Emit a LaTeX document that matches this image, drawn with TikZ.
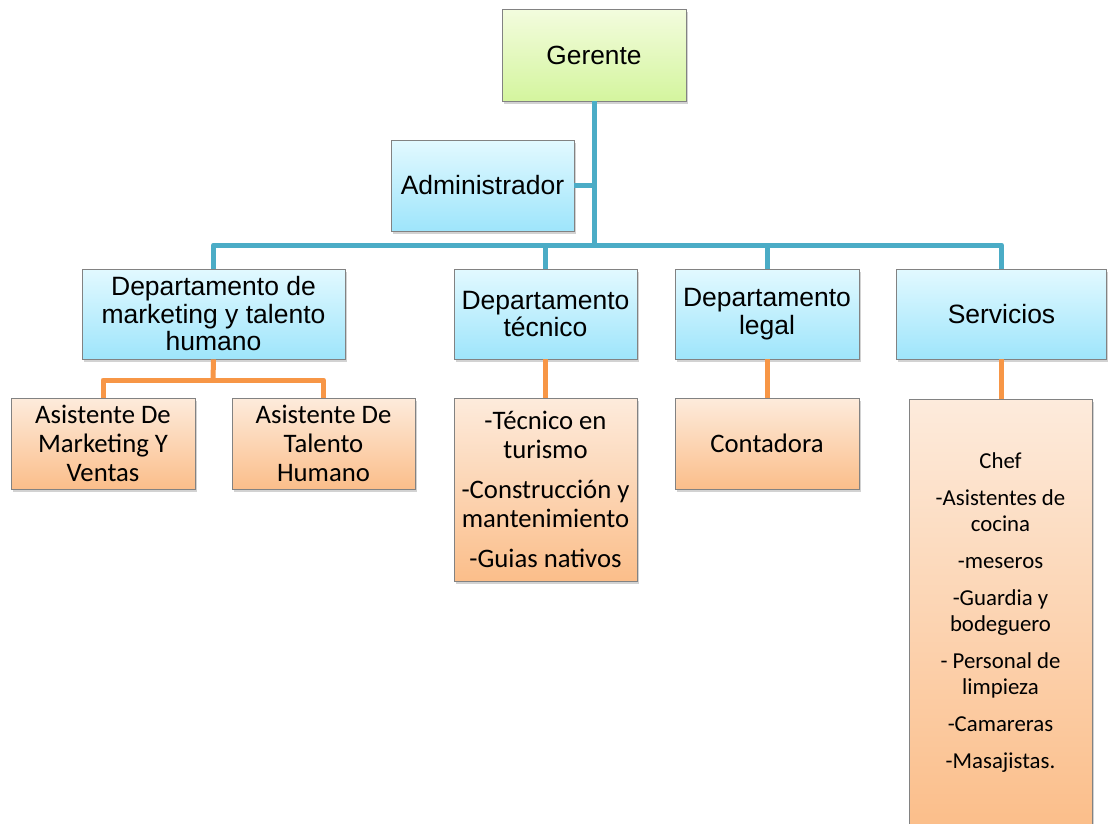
\documentclass[tikz,border=0pt]{standalone}
\usepackage{fontspec}
\setmainfont{Liberation Sans}
\newfontfamily\calibri{Carlito}
\usetikzlibrary{shadows}
\definecolor{tealline}{HTML}{4BACC6}
\definecolor{orangeline}{HTML}{F79646}
\definecolor{bluetop}{RGB}{226,249,255}
\definecolor{bluebot}{RGB}{158,229,251}
\definecolor{greentop}{RGB}{243,252,222}
\definecolor{greenbot}{RGB}{212,245,158}
\definecolor{orangetop}{RGB}{253,235,220}
\definecolor{orangebot}{RGB}{251,190,138}
\definecolor{boxborder}{RGB}{130,130,130}
\tikzset{
  x=1pt, y=1pt,
  basebox/.style={draw=boxborder, line width=0.8pt, inner sep=2pt, align=center,
    drop shadow={shadow xshift=1.5pt, shadow yshift=-2.5pt, opacity=0.35}},
  greenbox/.style={basebox, top color=greentop, bottom color=greenbot,
    font={\fontsize{26.3}{28}\selectfont}},
  bluebox/.style={basebox, top color=bluetop, bottom color=bluebot,
    font={\fontsize{26.5}{27.5}\selectfont}},
  orangebox/.style={basebox, top color=orangetop, bottom color=orangebot,
    font={\calibri\fontsize{26.7}{29}\selectfont}},
  tconn/.style={draw=tealline, line width=5pt, line join=round},
  oconn/.style={draw=orangeline, line width=5pt, line join=round},
}
\begin{document}
\begin{tikzpicture}
\useasboundingbox (0,0) rectangle (1109,-823);
\clip (0,0) rectangle (1109,-823);
\fill[white] (0,0) rectangle (1109,-823);

\coordinate (bus) at (594,-245);
\coordinate (obus) at (213,-380);

\node[greenbox, minimum width=184pt, minimum height=92pt] (ger) at (594,-55) {Gerente};
\node[bluebox, minimum width=183pt, minimum height=91pt, font={\fontsize{26.5}{28}\selectfont}] (adm) at (482.5,-185.5) {Administrador};

\node[bluebox, minimum width=263pt, minimum height=90pt] (dmk) at (213.5,-314) {Departamento de\\marketing y talento\\humano};
\node[bluebox, minimum width=183pt, minimum height=90pt] (dtec) at (545.5,-314) {Departamento\\técnico};
\node[bluebox, minimum width=184pt, minimum height=90pt] (dleg) at (767,-314) {Departamento\\legal};
\node[bluebox, minimum width=210pt, minimum height=90pt] (serv) at (1001.5,-314) {Servicios};

\node[orangebox, minimum width=184pt, minimum height=91pt] (amk) at (103,-443.5) {Asistente De\\Marketing Y\\Ventas};
\node[orangebox, minimum width=183pt, minimum height=91pt] (ath) at (323.5,-443.5) {Asistente De\\Talento\\Humano};
\node[orangebox, minimum width=183pt, minimum height=183pt] (tec) at (545.5,-489.5) {-Técnico en\\turismo\\[11pt]-Construcción y\\mantenimiento\\[11pt]-Guias nativos};
\node[orangebox, minimum width=184pt, minimum height=91pt] (cont) at (767,-443.5) {Contadora};
\node[orangebox, minimum width=183pt, minimum height=428pt, font={\calibri\fontsize{22.8}{26}\selectfont}] (ssub) at (1000.5,-613) {Chef\\[11pt]-Asistentes de\\cocina\\[11pt]-meseros\\[11pt]-Guardia y\\bodeguero\\[11pt]- Personal de\\limpieza\\[11pt]-Camareras\\[11pt]-Masajistas.};

% teal connectors
\draw[tconn] (ger.south) -- (bus);
\draw[tconn] (adm.east) -- (adm.east -| bus);
\draw[tconn] (dmk.north) |- (bus) -| (serv.north);
\draw[tconn] (dtec.north) -- (dtec.north |- bus);
\draw[tconn] (dleg.north) -- (dleg.north |- bus);

% orange connectors
\draw[oconn] (dmk.south) -- (obus);
\draw[oconn] (amk.north) |- (obus) -| (ath.north);
\draw[oconn] (dtec.south) -- (tec.north);
\draw[oconn] (dleg.south) -- (cont.north);
\draw[oconn] (serv.south) -- (serv.south |- ssub.north);
\end{tikzpicture}
\end{document}
